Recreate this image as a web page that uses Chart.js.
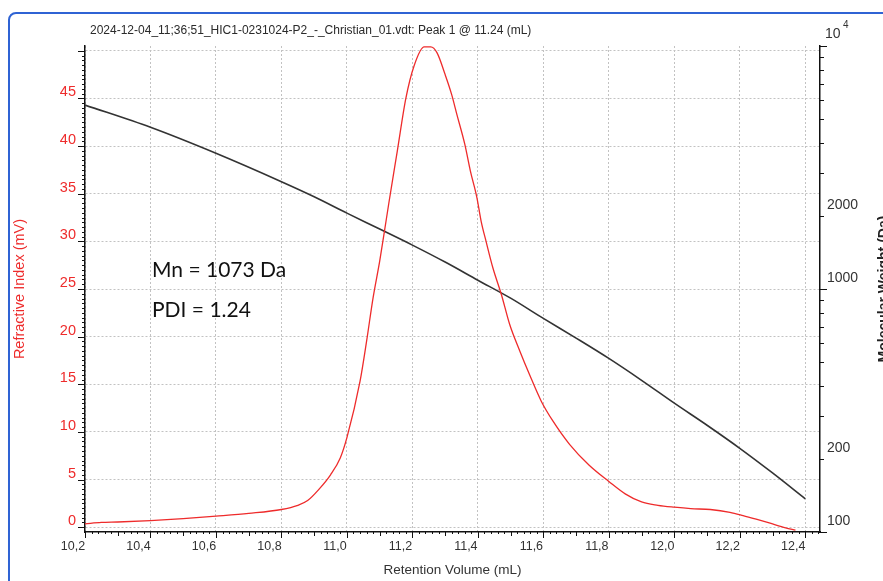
<!DOCTYPE html>
<html>
<head>
<meta charset="utf-8">
<script src="https://cdn.jsdelivr.net/npm/chart.js@4.4.1/dist/chart.umd.min.js"></script>
<style>
  html, body { margin: 0; padding: 0; background: #fff; }
  #wrap { width: 883px; height: 581px; }
</style>
</head>
<body>
<div id="wrap"><canvas id="gpc" width="883" height="581"></canvas></div>
<script>
var riVolume = [10.20, 10.25, 10.30, 10.40, 10.50, 10.60, 10.70, 10.80, 10.85, 10.88, 10.915, 10.95, 10.98, 11.00,
  11.04, 11.06, 11.08, 11.10, 11.113, 11.128, 11.154, 11.18, 11.205, 11.236, 11.256, 11.275, 11.30, 11.32,
  11.336, 11.36, 11.377, 11.397, 11.41, 11.425, 11.446, 11.472, 11.497, 11.528, 11.558, 11.594, 11.63, 11.68,
  11.74, 11.80, 11.85, 11.90, 11.95, 12.00, 12.05, 12.11, 12.17, 12.21, 12.25, 12.29, 12.34, 12.37];
var riSignal = [0.35, 0.5, 0.55, 0.7, 0.9, 1.16, 1.45, 1.86, 2.3, 2.8, 4.0, 5.5, 7.3, 9.4,
  15.3, 19.5, 24.1, 27.9, 30.7, 34.0, 39.5, 45.0, 48.4, 50.4, 50.4, 49.8, 47.5, 45.4,
  43.3, 40.2, 37.4, 34.6, 32.1, 30.0, 27.2, 24.4, 21.3, 18.5, 16.0, 13.2, 11.1, 8.7,
  6.5, 4.8, 3.5, 2.65, 2.3, 2.1, 1.95, 1.86, 1.57, 1.23, 0.85, 0.45, -0.07, -0.3];

var mwVolume = [10.2, 10.4, 10.6, 10.8, 10.9, 11.0, 11.1, 11.2, 11.3, 11.4, 11.5, 11.6, 11.7, 11.8, 11.9, 12.0, 12.1, 12.2, 12.3, 12.4];
var mwValue = [5715, 4627, 3617, 2763, 2396, 2052, 1765, 1516, 1291, 1087, 917, 757, 628, 518, 421, 339, 275, 221, 175, 137];

var volumeTicks = [10.2, 10.4, 10.6, 10.8, 11.0, 11.2, 11.4, 11.6, 11.8, 12.0, 12.2, 12.4];
var signalTicks = [0, 5, 10, 15, 20, 25, 30, 35, 40, 45, 50];
var mwTicks = [100, 200, 1000, 2000];

var titleText = '2024-12-04_11;36;51_HIC1-0231024-P2_-_Christian_01.vdt: Peak 1 @ 11.24 (mL)';
var mnText = 'Mn = 1073 Da';
var pdiText = 'PDI = 1.24';

var RED = '#ee2b2b';
var INK = '#333333';
var GRID = '#c2c2c2';

function pairs(xs, ys) {
  return xs.map(function (x, i) { return { x: x, y: ys[i] }; });
}

function setTicks(values) {
  return function (scale) {
    scale.ticks = values.map(function (v) { return { value: v }; });
  };
}

function fixSize(prop, size) {
  return function (scale) { scale[prop] = size; };
}

function drawTickRow(ctx, scale, values, lengthOf, dir) {
  values.forEach(function (v) {
    var p = scale.getPixelForValue(v);
    var len = lengthOf(v);
    ctx.beginPath();
    if (dir === 'down') {
      ctx.moveTo(Math.round(p) + 0.5, scale.top);
      ctx.lineTo(Math.round(p) + 0.5, scale.top + len);
    } else if (dir === 'left') {
      ctx.moveTo(scale.right, Math.round(p) + 0.5);
      ctx.lineTo(scale.right - len, Math.round(p) + 0.5);
    } else {
      ctx.moveTo(scale.left, Math.round(p) + 0.5);
      ctx.lineTo(scale.left + len, Math.round(p) + 0.5);
    }
    ctx.stroke();
  });
}

var decorations = {
  id: 'decorations',
  beforeDraw: function (chart) {
    var ctx = chart.ctx;
    ctx.save();
    ctx.fillStyle = '#fff';
    ctx.fillRect(0, 0, chart.width, chart.height);
    ctx.strokeStyle = '#2f63d4';
    ctx.lineWidth = 2;
    ctx.beginPath();
    ctx.roundRect(9, 13, 920, 620, 7);
    ctx.stroke();
    ctx.restore();
  },
  afterDraw: function (chart) {
    var ctx = chart.ctx;
    var s = chart.scales;
    var i, v;
    ctx.save();
    ctx.strokeStyle = '#111';
    ctx.lineWidth = 1;

    var xMinor = [];
    for (i = 0; i <= 112; i++) xMinor.push(10.2 + i * 0.02);
    drawTickRow(ctx, s.x, xMinor, function (v) {
      var k = Math.round((v - 10.2) / 0.02);
      return k % 10 === 0 ? 6 : (k % 5 === 0 ? 4 : 2);
    }, 'down');

    var yMinor = [];
    for (i = 0; i <= 100; i++) yMinor.push(i * 0.5);
    drawTickRow(ctx, s.y, yMinor, function (v) {
      return v % 5 === 0 ? 7 : 3;
    }, 'left');

    var mwMinor = [];
    for (v = 100; v < 1000; v += 100) mwMinor.push(v);
    for (v = 1000; v <= 10000; v += 1000) mwMinor.push(v);
    drawTickRow(ctx, s.mw, mwMinor, function (v) {
      return (v === 100 || v === 1000 || v === 10000) ? 7 : 4;
    }, 'right');

    ctx.fillStyle = '#2a2a2a';
    ctx.font = '12px "Liberation Sans", Arial, sans-serif';
    ctx.textBaseline = 'middle';
    ctx.textAlign = 'left';
    ctx.fillText(titleText, 90, 31);

    ctx.fillStyle = INK;
    ctx.font = '14px "Liberation Sans", Arial, sans-serif';
    ctx.fillText('10', s.mw.left + 5, 34);
    ctx.font = '10px "Liberation Sans", Arial, sans-serif';
    ctx.fillText('4', s.mw.left + 23, 25);

    ctx.fillStyle = '#111';
    ctx.font = '21px Lato, "Open Sans", sans-serif';
    ctx.textBaseline = 'alphabetic';
    ctx.fillText(mnText, 152, 277);
    ctx.fillText(pdiText, 152, 317);

    ctx.translate(888, (chart.chartArea.top + chart.chartArea.bottom) / 2);
    ctx.rotate(-Math.PI / 2);
    ctx.textAlign = 'center';
    ctx.fillStyle = '#222';
    ctx.font = 'bold 14px "Liberation Sans", Arial, sans-serif';
    ctx.fillText('Molecular Weight (Da)', 0, 0);
    ctx.restore();
  }
};

Chart.defaults.font.family = '"Liberation Sans", Arial, sans-serif';

new Chart(document.getElementById('gpc').getContext('2d'), {
  type: 'line',
  data: {
    datasets: [
      {
        label: 'Refractive Index',
        data: pairs(riVolume, riSignal),
        yAxisID: 'y',
        borderColor: RED,
        borderWidth: 1.3,
        pointRadius: 0,
        cubicInterpolationMode: 'monotone',
        fill: false
      },
      {
        label: 'Molecular Weight',
        data: pairs(mwVolume, mwValue),
        yAxisID: 'mw',
        borderColor: INK,
        borderWidth: 1.6,
        pointRadius: 0,
        cubicInterpolationMode: 'monotone',
        fill: false
      }
    ]
  },
  options: {
    responsive: false,
    animation: false,
    devicePixelRatio: 1,
    layout: { padding: { top: 46, left: 0, right: 0, bottom: 0 } },
    plugins: {
      legend: { display: false },
      tooltip: { enabled: false }
    },
    scales: {
      x: {
        type: 'linear',
        min: 10.2,
        max: 12.445,
        afterBuildTicks: setTicks(volumeTicks),
        afterFit: fixSize('height', 49),
        grid: { color: GRID, lineWidth: 1, drawTicks: false },
        border: { color: '#111', width: 1.5, dash: [2, 2] },
        ticks: {
          color: INK,
          padding: 7,
          labelOffset: -12,
          maxRotation: 0,
          font: { size: 12.5 },
          callback: function (v) { return v.toFixed(1).replace('.', ','); }
        },
        title: {
          display: true,
          text: 'Retention Volume (mL)',
          color: INK,
          font: { size: 13.5 },
          padding: { top: 0, bottom: 3 }
        }
      },
      y: {
        type: 'linear',
        position: 'left',
        min: -0.5,
        max: 50.5,
        afterBuildTicks: setTicks(signalTicks),
        afterFit: fixSize('width', 85),
        grid: { color: GRID, lineWidth: 1, drawTicks: false },
        border: { color: '#111', width: 1.5, dash: [2, 2] },
        ticks: {
          color: RED,
          padding: 9,
          labelOffset: -6,
          font: { size: 14.5 },
          callback: function (v) { return v === 50 ? '' : String(v); }
        },
        title: {
          display: true,
          text: 'Refractive Index (mV)',
          color: RED,
          font: { size: 14.5 },
          padding: { top: 11, bottom: 0 }
        }
      },
      mw: {
        type: 'logarithmic',
        position: 'right',
        min: 100,
        max: 10000,
        afterBuildTicks: setTicks(mwTicks),
        afterFit: fixSize('width', 63),
        grid: { drawOnChartArea: false, drawTicks: false },
        border: { color: '#111', width: 1.5 },
        ticks: {
          color: INK,
          padding: 7,
          labelOffset: -11,
          font: { size: 14 },
          callback: function (v) { return String(v); }
        }
      }
    }
  },
  plugins: [decorations]
});
</script>
</body>
</html>
